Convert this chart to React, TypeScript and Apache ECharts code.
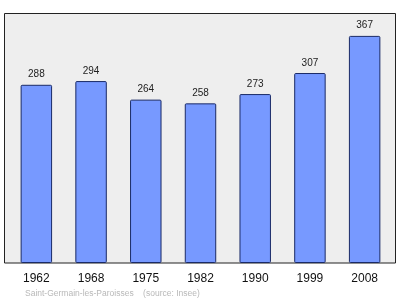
import React, { useEffect, useRef } from "react";
import * as echarts from "echarts";

const years = ["1962", "1968", "1975", "1982", "1990", "1999", "2008"];
const population = [288, 294, 264, 258, 273, 307, 367];
const footer = "Saint-Germain-les-Paroisses    (source: Insee)";

export default function App() {
  const ref = useRef<HTMLDivElement>(null);
  useEffect(() => {
    if (!ref.current) return;
    const chart = echarts.init(ref.current, null, { renderer: "svg" });
    chart.setOption({
      animation: false,
      graphic: [
        {
          type: "rect",
          z: -10,
          shape: { x: 4.5, y: 13.5, width: 391, height: 249.5 },
          style: { fill: "#eeeeee", stroke: "#222222", lineWidth: 1 },
        },
        {
          type: "text",
          left: 25,
          top: 288,
          style: {
            text: footer,
            fill: "#b8b8b8",
            font: "8.5px 'Liberation Sans', Arial, sans-serif",
          },
        },
      ],
      grid: { left: 9, top: 13, width: 383, height: 250, containLabel: false },
      xAxis: {
        type: "category",
        data: years,
        axisLine: { show: false },
        axisTick: { show: false },
        axisLabel: {
          color: "#111",
          fontSize: 12,
          fontFamily: "'Liberation Sans', Arial, sans-serif",
          margin: 9,
        },
      },
      yAxis: {
        type: "value",
        min: 0,
        max: 404,
        show: false,
        splitLine: { show: false },
      },
      series: [
        {
          type: "bar",
          data: population,
          barWidth: "57.5%",
          itemStyle: {
            color: "#7799ff",
            borderColor: "#1a2a66",
            borderWidth: 1,
            borderRadius: 1,
          },
          label: {
            show: true,
            position: "top",
            distance: 6,
            color: "#222",
            fontSize: 10,
            fontFamily: "'Liberation Sans', Arial, sans-serif",
          },
        },
      ],
    });
    return () => chart.dispose();
  }, []);
  return (
    <div
      ref={ref}
      style={{ position: "fixed", left: 0, top: 0, width: 400, height: 299 }}
    />
  );
}
